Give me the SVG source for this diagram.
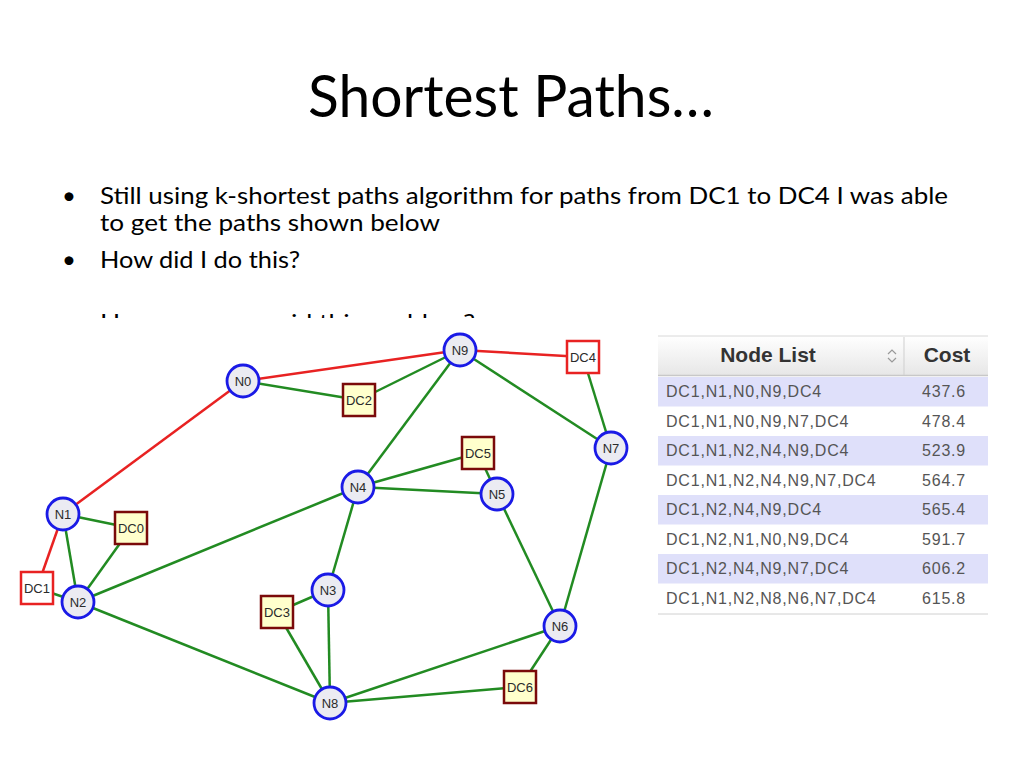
<svg xmlns="http://www.w3.org/2000/svg" width="1024" height="768" viewBox="0 0 1024 768">
<defs>
<style>
.slide{font-family:Lato,"Liberation Sans",sans-serif;fill:#000}
.e{stroke-width:2.5;fill:none}
.r{stroke:#e82222}
.g{stroke:#228b22}
.n circle{fill:#ebebf2;stroke:#1a1ae6;stroke-width:2.8}
.d rect{fill:#ffffcc;stroke:#7a0a0a;stroke-width:2.5}
.dr rect{fill:#ffffff;stroke:#e82222;stroke-width:2.5}
.lbl{font-family:"Liberation Sans",Arial,sans-serif;font-size:13px;fill:#2a2a2a;text-anchor:middle;dominant-baseline:central}
.cell{font-family:"Liberation Sans",Arial,sans-serif;font-size:16px;letter-spacing:0.8px;fill:#555}
.hdr{font-family:"Liberation Sans",Arial,sans-serif;font-size:21px;font-weight:bold;fill:#333}
</style>
<linearGradient id="hg" x1="0" y1="0" x2="0" y2="1">
<stop offset="0" stop-color="#ffffff"/>
<stop offset="1" stop-color="#e6e6e6"/>
</linearGradient>
<clipPath id="hide"><rect x="0" y="290" width="1024" height="28"/></clipPath>
</defs>
<rect width="1024" height="768" fill="#fff"/>

<g id="title">
<text class="slide" x="308" y="117" font-size="58" textLength="406" lengthAdjust="spacingAndGlyphs">Shortest Paths…</text>
</g>

<g id="bullets" class="slide" font-size="24">
<text x="62" y="204">•</text>
<text x="100" y="204" textLength="848" lengthAdjust="spacingAndGlyphs">Still using k-shortest paths algorithm for paths from DC1 to DC4 I was able</text>
<text x="100" y="231" textLength="340" lengthAdjust="spacingAndGlyphs">to get the paths shown below</text>
<text x="62" y="268">•</text>
<text x="100" y="268" textLength="200" lengthAdjust="spacingAndGlyphs">How did I do this?</text>
<g clip-path="url(#hide)">
<text x="100" y="331" textLength="375" lengthAdjust="spacingAndGlyphs">How can we avoid this problem?</text>
</g>
</g>

<g id="connectors">
<line class="e r" x1="63" y1="514" x2="243" y2="381"/>
<line class="e r" x1="243" y1="381" x2="460" y2="350"/>
<line class="e r" x1="460" y1="350" x2="583" y2="357"/>
<line class="e r" x1="37" y1="588" x2="63" y2="514"/>
<line class="e g" x1="243" y1="381" x2="359" y2="400"/>
<line class="e g" x1="359" y1="400" x2="460" y2="350"/>
<line class="e g" x1="460" y1="350" x2="358" y2="487"/>
<line class="e g" x1="460" y1="350" x2="611" y2="448"/>
<line class="e g" x1="583" y1="357" x2="611" y2="448"/>
<line class="e g" x1="358" y1="487" x2="478" y2="453"/>
<line class="e g" x1="358" y1="487" x2="497" y2="494"/>
<line class="e g" x1="478" y1="453" x2="497" y2="494"/>
<line class="e g" x1="358" y1="487" x2="78" y2="602"/>
<line class="e g" x1="358" y1="487" x2="328" y2="590"/>
<line class="e g" x1="328" y1="590" x2="277" y2="612"/>
<line class="e g" x1="328" y1="590" x2="330" y2="703"/>
<line class="e g" x1="277" y1="612" x2="330" y2="703"/>
<line class="e g" x1="78" y1="602" x2="330" y2="703"/>
<line class="e g" x1="63" y1="514" x2="78" y2="602"/>
<line class="e g" x1="63" y1="514" x2="131" y2="528"/>
<line class="e g" x1="131" y1="528" x2="78" y2="602"/>
<line class="e g" x1="37" y1="588" x2="78" y2="602"/>
<line class="e g" x1="497" y1="494" x2="560" y2="626"/>
<line class="e g" x1="611" y1="448" x2="560" y2="626"/>
<line class="e g" x1="560" y1="626" x2="330" y2="703"/>
<line class="e g" x1="560" y1="626" x2="520" y2="687"/>
<line class="e g" x1="520" y1="687" x2="330" y2="703"/>
</g>

<g id="N0" class="n"><circle cx="243" cy="381" r="16"/><text class="lbl" x="243" y="381">N0</text></g>
<g id="N1" class="n"><circle cx="63" cy="514" r="16"/><text class="lbl" x="63" y="514">N1</text></g>
<g id="N2" class="n"><circle cx="78" cy="602" r="16"/><text class="lbl" x="78" y="602">N2</text></g>
<g id="N3" class="n"><circle cx="328" cy="590" r="16"/><text class="lbl" x="328" y="590">N3</text></g>
<g id="N4" class="n"><circle cx="358" cy="487" r="16"/><text class="lbl" x="358" y="487">N4</text></g>
<g id="N5" class="n"><circle cx="497" cy="494" r="16"/><text class="lbl" x="497" y="494">N5</text></g>
<g id="N6" class="n"><circle cx="560" cy="626" r="16"/><text class="lbl" x="560" y="626">N6</text></g>
<g id="N7" class="n"><circle cx="611" cy="448" r="16"/><text class="lbl" x="611" y="448">N7</text></g>
<g id="N8" class="n"><circle cx="330" cy="703" r="16"/><text class="lbl" x="330" y="703">N8</text></g>
<g id="N9" class="n"><circle cx="460" cy="350" r="16"/><text class="lbl" x="460" y="350">N9</text></g>

<g id="DC0" class="d"><rect x="115" y="512" width="32" height="32"/><text class="lbl" x="131" y="528">DC0</text></g>
<g id="DC1" class="dr"><rect x="21" y="572" width="32" height="32"/><text class="lbl" x="37" y="588">DC1</text></g>
<g id="DC2" class="d"><rect x="343" y="384" width="32" height="32"/><text class="lbl" x="359" y="400">DC2</text></g>
<g id="DC3" class="d"><rect x="261" y="596" width="32" height="32"/><text class="lbl" x="277" y="612">DC3</text></g>
<g id="DC4" class="dr"><rect x="567" y="341" width="32" height="32"/><text class="lbl" x="583" y="357">DC4</text></g>
<g id="DC5" class="d"><rect x="462" y="437" width="32" height="32"/><text class="lbl" x="478" y="453">DC5</text></g>
<g id="DC6" class="d"><rect x="504" y="671" width="32" height="32"/><text class="lbl" x="520" y="687">DC6</text></g>

<g id="table">
<rect x="658" y="336" width="330" height="40" fill="url(#hg)"/>
<line x1="658" y1="336" x2="988" y2="336" stroke="#d8d8d8" stroke-width="1"/>
<line x1="658" y1="375.5" x2="988" y2="375.5" stroke="#c8c8c8" stroke-width="1.5"/>
<line x1="904" y1="337" x2="904" y2="375" stroke="#cfcfcf" stroke-width="1"/>
<text class="hdr" x="768" y="362" text-anchor="middle">Node List</text>
<path d="M888 354 L892 350 L896 354 M888 358 L892 362 L896 358" fill="none" stroke="#999" stroke-width="1.2"/>
<text class="hdr" x="947" y="362" text-anchor="middle">Cost</text>
<rect x="658" y="377" width="330" height="29.5" fill="#dfe0fa"/>
<rect x="658" y="436" width="330" height="29.5" fill="#dfe0fa"/>
<rect x="658" y="495" width="330" height="29.5" fill="#dfe0fa"/>
<rect x="658" y="554" width="330" height="29.5" fill="#dfe0fa"/>
<line x1="658" y1="614" x2="988" y2="614" stroke="#d0d0d0" stroke-width="1"/>
<g class="cell">
<text x="666" y="397">DC1,N1,N0,N9,DC4</text><text x="922" y="397">437.6</text>
<text x="666" y="426.5">DC1,N1,N0,N9,N7,DC4</text><text x="922" y="426.5">478.4</text>
<text x="666" y="456">DC1,N1,N2,N4,N9,DC4</text><text x="922" y="456">523.9</text>
<text x="666" y="485.5">DC1,N1,N2,N4,N9,N7,DC4</text><text x="922" y="485.5">564.7</text>
<text x="666" y="515">DC1,N2,N4,N9,DC4</text><text x="922" y="515">565.4</text>
<text x="666" y="544.5">DC1,N2,N1,N0,N9,DC4</text><text x="922" y="544.5">591.7</text>
<text x="666" y="574">DC1,N2,N4,N9,N7,DC4</text><text x="922" y="574">606.2</text>
<text x="666" y="603.5">DC1,N1,N2,N8,N6,N7,DC4</text><text x="922" y="603.5">615.8</text>
</g>
</g>
</svg>
